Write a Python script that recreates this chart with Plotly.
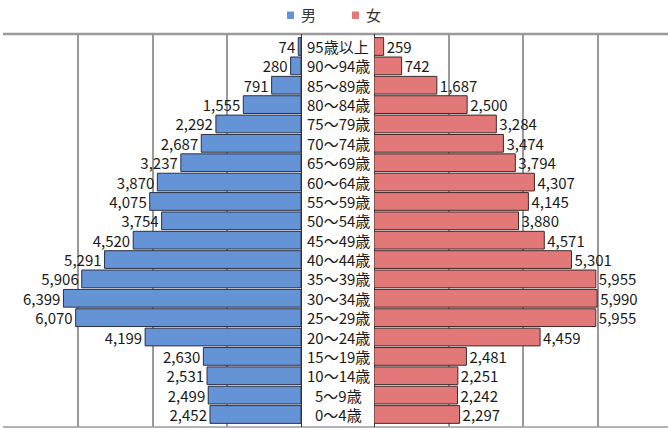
import plotly.graph_objects as go

ages = ["95歳以上", "90～94歳", "85～89歳", "80～84歳", "75～79歳", "70～74歳",
        "65～69歳", "60～64歳", "55～59歳", "50～54歳", "45～49歳", "40～44歳",
        "35～39歳", "30～34歳", "25～29歳", "20～24歳", "15～19歳", "10～14歳",
        "5～9歳", "0～4歳"]
male = [74, 280, 791, 1555, 2292, 2687, 3237, 3870, 4075, 3754, 4520, 5291,
        5906, 6399, 6070, 4199, 2630, 2531, 2499, 2452]
female = [259, 742, 1687, 2500, 3284, 3474, 3794, 4307, 4145, 3880, 4571, 5301,
          5955, 5990, 5955, 4459, 2481, 2251, 2242, 2297]
series_names = ["男", "女"]

W, H = 668, 428
T, B = 34, 1
PH = H - T - B


def px(x):
    return x / W


def py(y):
    return (H - B - y) / PH


FONT = "Noto Sans CJK JP, sans-serif"
BLUE = "#6494d6"
RED = "#e27878"
GRID = "#9a9a9c"

fig = go.Figure()
fig.add_trace(go.Bar(
    y=ages, x=male, orientation="h", name=series_names[0],
    xaxis="x", yaxis="y",
    marker=dict(color=BLUE, line=dict(color="#2b3140", width=1)),
    texttemplate="%{x:,}", textposition="outside", constraintext="none",
    cliponaxis=False, textfont=dict(family=FONT, size=15, color="#1a1a1a"),
    showlegend=False,
))
fig.add_trace(go.Bar(
    y=ages, x=female, orientation="h", name=series_names[1],
    xaxis="x2", yaxis="y",
    marker=dict(color=RED, line=dict(color="#3e2a2a", width=1)),
    texttemplate="%{x:,}", textposition="outside", constraintext="none",
    cliponaxis=False, textfont=dict(family=FONT, size=15, color="#1a1a1a"),
    showlegend=False,
))

annotations = []
for a in ages:
    annotations.append(dict(
        x=px(338), xref="paper", y=a, yref="y", text=a, showarrow=False,
        xanchor="center", yanchor="middle",
        font=dict(family=FONT, size=15, color="#1a1a1a"),
    ))

# legend
legend_items = [(series_names[0], BLUE, 287), (series_names[1], RED, 352)]
shapes = []
for name, col, x0 in legend_items:
    shapes.append(dict(type="rect", xref="paper", yref="paper",
                       x0=px(x0), x1=px(x0 + 7), y0=py(19), y1=py(11.5),
                       fillcolor=col, line=dict(width=0)))
    annotations.append(dict(
        x=px(x0 + 12), xref="paper", y=py(15), yref="paper", text=name,
        showarrow=False, xanchor="left", yanchor="middle",
        font=dict(family="Noto Sans CJK JP", size=15, color="#333333"),
    ))

# plot-area border
shapes.append(dict(type="line", xref="paper", yref="paper", x0=px(3), x1=1,
                   y0=1, y1=1, line=dict(color=GRID, width=2.5), layer="below"))
shapes.append(dict(type="line", xref="paper", yref="paper", x0=px(3), x1=1,
                   y0=0, y1=0, line=dict(color=GRID, width=1.5), layer="below"))

fig.update_layout(
    width=W, height=H,
    margin=dict(l=0, r=0, t=T, b=B),
    paper_bgcolor="white", plot_bgcolor="white",
    barmode="overlay", bargap=0.085,
    xaxis=dict(domain=[px(4), px(301)], range=[8000, 0], dtick=2000,
               showticklabels=False, showgrid=True, gridcolor=GRID, gridwidth=2,
               zeroline=True, zerolinecolor="#333333", zerolinewidth=1,
               anchor="y", fixedrange=True),
    xaxis2=dict(domain=[px(374), 1], range=[0, 8000 * 294 / 298], dtick=2000,
                showticklabels=False, showgrid=True, gridcolor=GRID, gridwidth=2,
                zeroline=True, zerolinecolor="#333333", zerolinewidth=1,
                anchor="y", fixedrange=True),
    yaxis=dict(categoryorder="array", categoryarray=ages, autorange="reversed",
               showticklabels=False, showgrid=False, zeroline=False,
               anchor="x", fixedrange=True),
    annotations=annotations, shapes=shapes,
    showlegend=False,
)

fig.write_html("out.html")
